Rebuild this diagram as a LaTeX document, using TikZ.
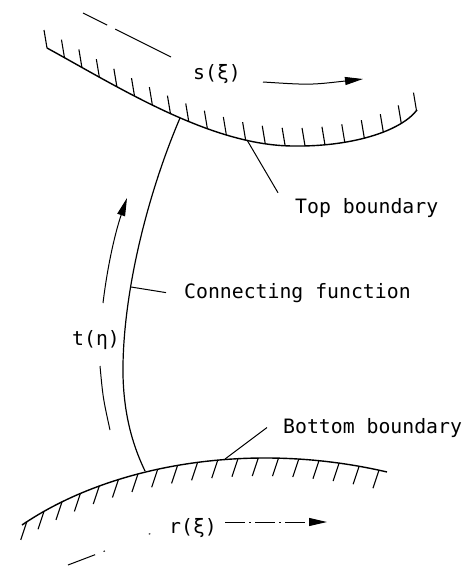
\documentclass[tikz,border=0pt]{standalone}
\usepackage{fontspec}
\usetikzlibrary{arrows.meta,decorations.markings}
\newfontfamily\labelfont{DejaVu Sans Mono}

\tikzset{
  hatchup/.style={postaction={decorate, decoration={markings,
    mark=between positions 0 and 1 step 0.0499 with {\pgftransformresetnontranslations
      \draw[line width=1.1pt] (0,0) -- (-3,-18);}}}},
  hatchdown/.style={postaction={decorate, decoration={markings,
    mark=between positions 0.015 and 1 step 0.0535 with {\pgftransformresetnontranslations
      \draw[line width=1.1pt] (0,0) -- (-6,18);}}}},
}

\begin{document}
\begin{tikzpicture}[x=1pt, y=-1pt,
  lbl/.style={font=\labelfont\fontsize{19.8}{22}\selectfont, inner sep=0pt, anchor=base west},
  bound/.style={line width=1.4pt},
  leader/.style={line width=1pt},
  flow/.style={line width=1pt},
  flowarrow/.style={line width=1pt, -{Triangle[length=18pt,width=8pt]}}]
  \useasboundingbox (0,0) rectangle (467,567);

  % boundaries
  \draw[bound, hatchup] (47,48) .. controls (120,88) and (210,145) .. (292,146)
    .. controls (350,147) and (400,132) .. (417,110);
  \draw[bound, hatchdown] (22,525) .. controls (110,465) and (250,440) .. (387,472);

  \coordinate (ctop) at (180,118);
  \coordinate (cmid) at (123,375);
  \coordinate (cbot) at (145,471);
  \draw[line width=1.2pt] (ctop) .. controls (145,200) and (122,300) .. (cmid)
    .. controls (124,420) and (135,450) .. (cbot);

  % labels
  \node[lbl] (toplabel) at (295,213) {Top boundary};
  \node[lbl] (connlabel) at (184,298) {Connecting function};
  \node[lbl] (botlabel) at (283,433) {Bottom boundary};
  \node[lbl] (tlabel) at (72,345) {t(η)};
  \node[lbl] (slabel) at (193,80) {s(ξ)};
  \node[lbl] (rlabel) at (169,533) {r(ξ)};

  \coordinate (toppt) at (247,140);
  \coordinate (connpt) at (131,287);
  \coordinate (botpt) at (225,459);
  \draw[leader] (toppt) -- ([xshift=-17pt,yshift=5pt]toplabel.north west);
  \draw[leader] (connpt) -- ([xshift=-18pt]connlabel.west);
  \draw[leader] (botpt) -- ([xshift=-16pt]botlabel.west);

  % direction arrows
  \coordinate (s1) at (83,13);
  \coordinate (s2) at (171,57);
  \coordinate (s3) at (263,82);
  \coordinate (s4) at (363,79);
  \draw[flow, dash pattern=on 27pt off 9pt on 80pt] (s1) -- (s2);
  \draw[flowarrow] (s3) .. controls (310,85) .. (s4);

  \coordinate (t1) at (110,430);
  \coordinate (t2) at (100,366);
  \coordinate (t3) at (103,303);
  \coordinate (t4) at (127,198);
  \draw[flow] (t1) .. controls (103,398) .. (t2);
  \draw[flowarrow] (t3) .. controls (108,262) and (116,230) .. (t4);

  \coordinate (r1) at (68,565);
  \coordinate (r2) at (152,533);
  \coordinate (r3) at (225,522);
  \coordinate (r4) at (327,522);
  \draw[flow, dash pattern=on 29pt off 9pt on 1.5pt off 47pt on 1.5pt off 20pt] (r1) -- (r2);
  \draw[flowarrow, dash pattern=on 20pt off 4pt on 2pt off 4pt] (r3) -- (r4);
\end{tikzpicture}
\end{document}
